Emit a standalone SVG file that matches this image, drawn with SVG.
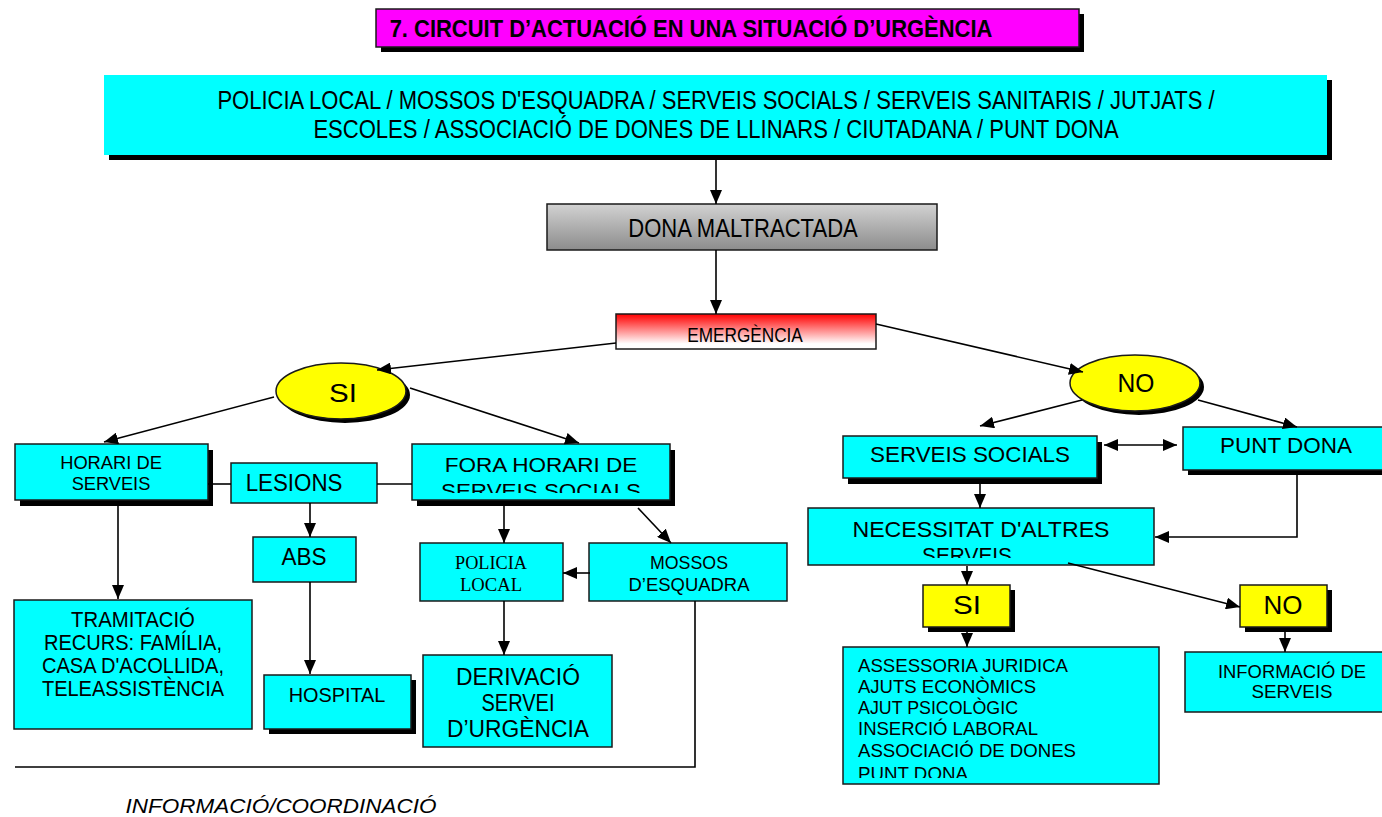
<svg xmlns="http://www.w3.org/2000/svg" width="1382" height="817" viewBox="0 0 1382 817">
<style>
text{font-family:"Liberation Sans",Arial,sans-serif;fill:#000;text-anchor:middle}
text.st{text-anchor:start}
.box{stroke:#1a1a1a;stroke-width:1.5}
.cy{fill:#00ffff}
.ye{fill:#ffff00}
.sh{fill:#000}
.ln{fill:none;stroke:#000;stroke-width:1.6}
.arr{marker-end:url(#ah)}
.tm{font-family:"Liberation Serif","Times New Roman",serif}
</style>
<defs>
<marker id="ah" markerUnits="userSpaceOnUse" markerWidth="14" markerHeight="12" refX="14" refY="6" orient="auto-start-reverse" viewBox="0 0 14 12"><path d="M0,0 L14,6 L0,12 z" fill="#000"/></marker>
<linearGradient id="gray" x1="0" y1="0" x2="0" y2="1"><stop offset="0" stop-color="#d2d2d2"/><stop offset="1" stop-color="#8c8c8c"/></linearGradient>
<linearGradient id="red" x1="0" y1="0" x2="0" y2="1"><stop offset="0" stop-color="#ff0000"/><stop offset="0.85" stop-color="#ffffff"/></linearGradient>
<clipPath id="cFora"><rect x="412" y="444" width="258" height="49"/></clipPath>
<clipPath id="cNec"><rect x="808" y="508" width="346" height="50"/></clipPath>
<clipPath id="cList"><rect x="843" y="647" width="316" height="131"/></clipPath>
</defs>

<g id="title">
<rect class="sh" x="381" y="14" width="703" height="38"/>
<rect x="376" y="9" width="703" height="38" fill="#ff00ff" class="box"/>
<text transform="translate(691,37) scale(0.82,1)" font-size="24" font-weight="bold" textLength="735" lengthAdjust="spacingAndGlyphs">7. CIRCUIT D’ACTUACIÓ EN UNA SITUACIÓ D’URGÈNCIA</text>
</g>

<g id="agents">
<rect class="sh" x="109" y="80" width="1223" height="80"/>
<rect class="cy" x="104" y="75" width="1223" height="80"/>
<text transform="translate(716,109) scale(0.82,1)" font-size="25" textLength="1216" lengthAdjust="spacingAndGlyphs">POLICIA LOCAL / MOSSOS D'ESQUADRA / SERVEIS SOCIALS / SERVEIS SANITARIS / JUTJATS /</text>
<text transform="translate(716,138) scale(0.82,1)" font-size="25" textLength="982" lengthAdjust="spacingAndGlyphs">ESCOLES / ASSOCIACIÓ DE DONES DE LLINARS / CIUTADANA / PUNT DONA</text>
</g>

<g id="dona">
<rect x="547" y="204" width="390" height="46" fill="url(#gray)" class="box"/>
<text transform="translate(743,237) scale(0.82,1)" font-size="26" textLength="280" lengthAdjust="spacingAndGlyphs">DONA MALTRACTADA</text>
</g>

<g id="emergencia">
<rect x="616" y="314" width="260" height="35" fill="url(#red)" class="box"/>
<text transform="translate(745,342) scale(0.82,1)" font-size="21" textLength="141" lengthAdjust="spacingAndGlyphs">EMERGÈNCIA</text>
</g>

<g id="si-ellipse">
<ellipse class="sh" cx="345" cy="395" rx="65" ry="28"/>
<ellipse cx="341" cy="391" rx="65" ry="28" class="box ye"/>
<text transform="translate(343,402) scale(0.82,1)" font-size="25" textLength="34" lengthAdjust="spacingAndGlyphs">SI</text>
</g>

<g id="no-ellipse">
<ellipse class="sh" cx="1139" cy="387" rx="65" ry="28"/>
<ellipse cx="1135" cy="383" rx="65" ry="28" class="box ye"/>
<text transform="translate(1136,392) scale(0.82,1)" font-size="26" textLength="45" lengthAdjust="spacingAndGlyphs">NO</text>
</g>

<g id="horari">
<rect class="sh" x="20" y="450" width="193" height="56"/>
<rect x="15" y="444" width="193" height="56" class="box cy"/>
<text transform="translate(111,469) scale(0.82,1)" font-size="18" textLength="124" lengthAdjust="spacingAndGlyphs">HORARI DE</text>
<text transform="translate(111,490) scale(0.82,1)" font-size="18" textLength="96" lengthAdjust="spacingAndGlyphs">SERVEIS</text>
</g>

<g id="lesions">
<rect x="231" y="463" width="146" height="40" class="box cy"/>
<text transform="translate(294,491) scale(0.82,1)" font-size="23" textLength="118" lengthAdjust="spacingAndGlyphs">LESIONS</text>
</g>

<g id="fora">
<rect class="sh" x="417" y="450" width="258" height="56"/>
<rect x="412" y="444" width="258" height="56" class="box cy"/>
<g clip-path="url(#cFora)">
<text transform="translate(541,472) scale(0.82,1)" font-size="21" textLength="235" lengthAdjust="spacingAndGlyphs">FORA HORARI DE</text>
<text transform="translate(541,498) scale(0.82,1)" font-size="21" textLength="244" lengthAdjust="spacingAndGlyphs">SERVEIS SOCIALS</text>
</g>
</g>

<g id="abs">
<rect x="253" y="537" width="103" height="45" class="box cy"/>
<text transform="translate(304,565) scale(0.82,1)" font-size="24" textLength="55" lengthAdjust="spacingAndGlyphs">ABS</text>
</g>

<g id="tramitacio">
<rect x="14" y="600" width="238" height="129" class="box cy"/>
<text transform="translate(133,627) scale(0.82,1)" font-size="22" textLength="151" lengthAdjust="spacingAndGlyphs">TRAMITACIÓ</text>
<text transform="translate(133,650) scale(0.82,1)" font-size="22" textLength="217" lengthAdjust="spacingAndGlyphs">RECURS: FAMÍLIA,</text>
<text transform="translate(133,673) scale(0.82,1)" font-size="22" textLength="222" lengthAdjust="spacingAndGlyphs">CASA D'ACOLLIDA,</text>
<text transform="translate(133,696) scale(0.82,1)" font-size="22" textLength="222" lengthAdjust="spacingAndGlyphs">TELEASSISTÈNCIA</text>
</g>

<g id="hospital">
<rect class="sh" x="269" y="680" width="147" height="54"/>
<rect x="264" y="675" width="147" height="54" class="box cy"/>
<text transform="translate(337,702) scale(0.82,1)" font-size="21" textLength="118" lengthAdjust="spacingAndGlyphs">HOSPITAL</text>
</g>

<g id="policia">
<rect x="420" y="543" width="143" height="58" class="box cy"/>
<text class="tm" x="491" y="569" font-size="19" textLength="72" lengthAdjust="spacingAndGlyphs">POLICIA</text>
<text class="tm" x="491" y="591" font-size="19" textLength="62" lengthAdjust="spacingAndGlyphs">LOCAL</text>
</g>

<g id="mossos">
<rect x="589" y="543" width="198" height="58" class="box cy"/>
<text x="689" y="569" font-size="18.5" textLength="78" lengthAdjust="spacingAndGlyphs">MOSSOS</text>
<text x="689" y="591" font-size="18.5" textLength="121" lengthAdjust="spacingAndGlyphs">D’ESQUADRA</text>
</g>

<g id="derivacio">
<rect x="423" y="655" width="189" height="92" class="box cy"/>
<text x="518" y="685" font-size="23" textLength="124" lengthAdjust="spacingAndGlyphs">DERIVACIÓ</text>
<text x="518" y="711" font-size="23" textLength="73" lengthAdjust="spacingAndGlyphs">SERVEI</text>
<text x="518" y="737" font-size="23" textLength="142" lengthAdjust="spacingAndGlyphs">D’URGÈNCIA</text>
</g>

<g id="coordinacio">
<text transform="translate(281,813) scale(0.82,1)" font-size="21" font-style="italic" textLength="379" lengthAdjust="spacingAndGlyphs">INFORMACIÓ/COORDINACIÓ</text>
</g>

<g id="serveis-socials">
<rect class="sh" x="848" y="442" width="254" height="42"/>
<rect x="843" y="436" width="254" height="42" class="box cy"/>
<text x="970" y="462" font-size="22" textLength="200" lengthAdjust="spacingAndGlyphs">SERVEIS SOCIALS</text>
</g>

<g id="punt-dona">
<rect class="sh" x="1188" y="432" width="200" height="43"/>
<rect x="1183" y="427" width="200" height="43" class="box cy"/>
<text x="1286" y="453" font-size="22" textLength="132" lengthAdjust="spacingAndGlyphs">PUNT DONA</text>
</g>

<g id="necessitat">
<rect x="808" y="508" width="346" height="57" class="box cy"/>
<g clip-path="url(#cNec)">
<text x="981" y="537" font-size="22" textLength="257" lengthAdjust="spacingAndGlyphs">NECESSITAT D'ALTRES</text>
<text x="967" y="563" font-size="22" textLength="90" lengthAdjust="spacingAndGlyphs">SERVEIS</text>
</g>
</g>

<g id="si-rect">
<rect class="sh" x="928" y="590" width="87" height="42"/>
<rect x="923" y="585" width="87" height="42" class="box ye"/>
<text x="967" y="614" font-size="25" textLength="28" lengthAdjust="spacingAndGlyphs">SI</text>
</g>

<g id="no-rect">
<rect class="sh" x="1245" y="590" width="87" height="42"/>
<rect x="1240" y="585" width="87" height="42" class="box ye"/>
<text x="1283" y="614" font-size="25" textLength="39" lengthAdjust="spacingAndGlyphs">NO</text>
</g>

<g id="recursos">
<rect x="843" y="647" width="316" height="137" class="box cy"/>
<g clip-path="url(#cList)">
<text class="st" x="858" y="672" font-size="17.5" textLength="210" lengthAdjust="spacingAndGlyphs">ASSESSORIA JURIDICA</text>
<text class="st" x="858" y="693" font-size="17.5" textLength="178" lengthAdjust="spacingAndGlyphs">AJUTS ECONÒMICS</text>
<text class="st" x="858" y="714" font-size="17.5" textLength="160" lengthAdjust="spacingAndGlyphs">AJUT PSICOLÒGIC</text>
<text class="st" x="858" y="735" font-size="17.5" textLength="180" lengthAdjust="spacingAndGlyphs">INSERCIÓ LABORAL</text>
<text class="st" x="858" y="757" font-size="17.5" textLength="218" lengthAdjust="spacingAndGlyphs">ASSOCIACIÓ DE DONES</text>
<text class="st" x="858" y="780" font-size="17.5" textLength="110" lengthAdjust="spacingAndGlyphs">PUNT DONA</text>
</g>
</g>

<g id="informacio">
<rect x="1185" y="652" width="200" height="60" class="box cy"/>
<text x="1292" y="678" font-size="18" textLength="148" lengthAdjust="spacingAndGlyphs">INFORMACIÓ DE</text>
<text x="1292" y="698" font-size="18" textLength="81" lengthAdjust="spacingAndGlyphs">SERVEIS</text>
</g>

<g id="connectors">
<path class="ln arr" d="M716,160 L716,204"/>
<path class="ln arr" d="M716,250 L716,314"/>
<path class="ln arr" d="M616,343 L377,370"/>
<path class="ln arr" d="M876,324 L1083,372"/>
<path class="ln arr" d="M274,397 L104,442"/>
<path class="ln arr" d="M410,388 L579,443"/>
<path class="ln" d="M208,484 L231,484"/>
<path class="ln" d="M377,484 L412,484"/>
<path class="ln arr" d="M118,505 L118,599"/>
<path class="ln arr" d="M310,503 L310,537"/>
<path class="ln arr" d="M310,582 L310,674"/>
<path class="ln arr" d="M504,506 L504,543"/>
<path class="ln arr" d="M638,508 L671,543"/>
<path class="ln arr" d="M590,573 L563,573"/>
<path class="ln arr" d="M504,601 L504,655"/>
<path class="ln" d="M695,601 L695,767 L15,767"/>
<path class="ln arr" d="M1082,400 L980,426"/>
<path class="ln arr" d="M1198,400 L1297,427"/>
<path class="ln arr" d="M1104,445 L1177,445" marker-start="url(#ah)"/>
<path class="ln arr" d="M980,484 L980,508"/>
<path class="ln arr" d="M1297,475 L1297,537 L1155,537"/>
<path class="ln arr" d="M967,566 L967,585"/>
<path class="ln arr" d="M1068,563 L1240,607"/>
<path class="ln arr" d="M967,632 L967,647"/>
<path class="ln arr" d="M1285,632 L1285,652"/>
</g>
</svg>
